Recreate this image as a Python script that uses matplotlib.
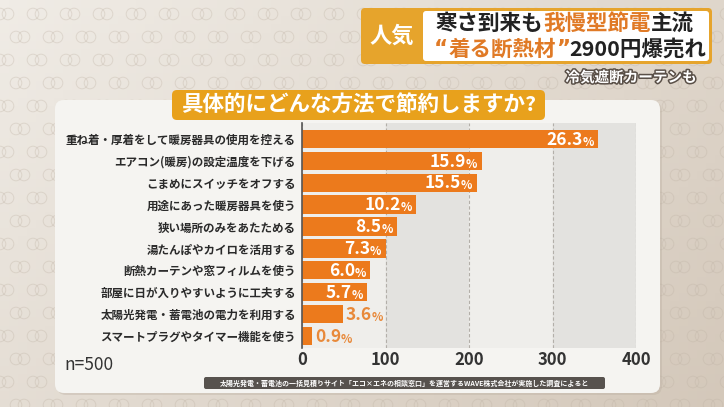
import numpy as np
import matplotlib.pyplot as plt
import matplotlib.patheffects as pe
from matplotlib.patches import FancyBboxPatch

plt.rcParams['font.family'] = ['Noto Sans CJK JP', 'DejaVu Sans']

# --- データ ---
methods = [
    '重ね着・厚着をして暖房器具の使用を控える',
    'エアコン(暖房)の設定温度を下げる',
    'こまめにスイッチをオフする',
    '用途にあった暖房器具を使う',
    '狭い場所のみをあたためる',
    '湯たんぽやカイロを活用する',
    '断熱カーテンや窓フィルムを使う',
    '部屋に日が入りやすいように工夫する',
    '太陽光発電・蓄電池の電力を利用する',
    'スマートプラグやタイマー機能を使う',
]
counts = [355, 215, 209, 137, 114, 100, 82, 78, 49, 12]
pct_labels = ['26.3', '15.9', '15.5', '10.2', '8.5', '7.3', '6.0', '5.7', '3.6', '0.9']
x_ticks = [0, 100, 200, 300, 400]
n_label = 'n=500'
question = '具体的にどんな方法で節約しますか?'
source = '太陽光発電・蓄電池の一括見積りサイト「エコ×エネの相談窓口」を運営するWAVE株式会社が実施した調査によると'

ORANGE = '#ec7a1c'
W, H = 724, 407

fig = plt.figure(figsize=(W / 100, H / 100), dpi=100)

# --- 背景 (ピクセル座標) ---
bg = fig.add_axes([0, 0, 1, 1], zorder=0)
bg.axis('off')
gx, gy = np.meshgrid(np.linspace(0, 1, 80), np.linspace(0, 1, 50))
t = np.clip(0.6 * gx + 0.4 * gy, 0, 1)[..., None]
c1 = np.array([0xf0, 0xec, 0xe6]) / 255
c2 = np.array([0xd4, 0xc8, 0xba]) / 255
bg.imshow(c1 * (1 - t) + c2 * t, extent=[0, W, H, 0], aspect='auto')
bg.set_xlim(0, W)
bg.set_ylim(H, 0)

# 丸模様
px, py = np.meshgrid(np.arange(0, W + 40, 33.0), np.arange(14, H + 20, 23.0))
px = px + (np.arange(px.shape[0])[:, None] % 2) * 16
for dx in (0, 8):
    bg.scatter((px + dx).ravel(), py.ravel(), s=70, facecolors='none',
               edgecolors='#bfb3a5', linewidths=0.7, alpha=0.35)

# パネル
bg.add_patch(FancyBboxPatch((57, 102), 605, 293, boxstyle='round,pad=0,rounding_size=9',
                            facecolor='#b9ad9f', edgecolor='none', alpha=0.35))
bg.add_patch(FancyBboxPatch((55, 100), 605, 293, boxstyle='round,pad=0,rounding_size=9',
                            facecolor='#f5f4f1', edgecolor='none'))

# 見出し
bg.add_patch(FancyBboxPatch((361, 8), 351, 56, boxstyle='round,pad=0,rounding_size=4',
                            facecolor='#e6a42c', edgecolor='none'))
bg.add_patch(FancyBboxPatch((423, 11), 286, 50, boxstyle='round,pad=0,rounding_size=3',
                            facecolor='white', edgecolor='none'))
bg.text(392, 36, '人気', color='white', fontsize=16, fontweight='bold', ha='center', va='center')

hl = dict(fontsize=15.5, fontweight='bold', va='center', ha='left')
t1 = bg.text(436, 23, '寒さ到来も', color='#222222', **hl)
t2 = bg.annotate('我慢型節電', xy=(1, 0.5), xycoords=t1, color='#e07a26', **hl)
bg.annotate('主流', xy=(1, 0.5), xycoords=t2, color='#222222', **hl)
q1 = bg.text(434, 49, '“', color='#e07a26', family=['DejaVu Sans'], **hl)
t4 = bg.annotate('着る断熱材', xy=(1, 0.5), xycoords=q1, color='#e07a26', **hl)
q2 = bg.annotate('”', xy=(1, 0.5), xycoords=t4, color='#e07a26', family=['DejaVu Sans'], **hl)
bg.annotate('2900円爆売れ', xy=(1, 0.5), xycoords=q2, color='#222222', **hl)

bg.text(697, 77, '冷気遮断カーテンも', color='white', fontsize=10.5, fontweight='bold',
        ha='right', va='center',
        path_effects=[pe.withStroke(linewidth=2.2, foreground='#5a5048')])

# 質問バナー
bg.add_patch(FancyBboxPatch((172, 90), 373, 30, boxstyle='round,pad=0,rounding_size=5',
                            facecolor='#e8a11c', edgecolor='none'))
bg.text(359, 105, question, color='white', fontsize=15.5, fontweight='bold',
        ha='center', va='center')

# n=500
bg.text(64, 365, n_label, color='#333333', fontsize=12.5, ha='left', va='center')

# 出典
bg.add_patch(FancyBboxPatch((204, 377), 401, 12, boxstyle='round,pad=0,rounding_size=2',
                            facecolor='#57524e', edgecolor='none'))
bg.text(404.5, 383, source, color='white', fontsize=5, fontweight='bold',
        ha='center', va='center')

# --- 棒グラフ ---
ax = fig.add_axes([302 / W, 1 - 348 / H, (636 - 302) / W, (348 - 123) / H], zorder=1)
ax.set_facecolor('none')
ypos = np.arange(len(methods))

ax.axvspan(0, 100, color='#efeeeb', zorder=0)
ax.axvspan(100, 200, color='#e3e2df', zorder=0)
ax.axvspan(200, 300, color='#efeeeb', zorder=0)
ax.axvspan(300, 400, color='#e3e2df', zorder=0)

ax.barh(ypos, counts, height=0.84, color=ORANGE, zorder=3)

ax.set_xlim(0, 400)
ax.set_ylim(len(methods) - 0.45, -0.73)
ax.set_xticks(x_ticks)
ax.set_xticklabels([str(v) for v in x_ticks], fontsize=12, color='#333333', fontweight='bold')
ax.set_yticks(ypos)
ax.set_yticklabels(methods, fontsize=8.3, color='#2a2a2a', fontweight='bold')
ax.tick_params(axis='both', length=0)
ax.tick_params(axis='y', pad=4.5)
ax.tick_params(axis='x', pad=2)
ax.grid(axis='x', linestyle=(0, (3, 2)), color='#b3afa9', linewidth=0.8, zorder=1)
ax.set_axisbelow(True)
for s in ['top', 'right', 'bottom']:
    ax.spines[s].set_visible(False)
ax.spines['left'].set_color('#555555')
ax.spines['left'].set_linewidth(1.2)
ax.spines['left'].set_zorder(4)

# 値ラベル
for i, (c, lab) in enumerate(zip(counts, pct_labels)):
    if c > 60:
        p = ax.annotate('%', xy=(c, i), xytext=(-3, -7), textcoords='offset points',
                        color='white', fontsize=8.5, fontweight='bold',
                        ha='right', va='bottom', zorder=5)
        ax.annotate(lab, xy=(0, 0), xycoords=p, color='white', fontsize=12.5,
                    fontweight='bold', ha='right', va='bottom', zorder=5)
    else:
        n = ax.annotate(lab, xy=(c, i), xytext=(2, -7), textcoords='offset points',
                        color='#e8893a', fontsize=12.5, fontweight='bold',
                        ha='left', va='bottom', zorder=5)
        ax.annotate('%', xy=(1, 0), xycoords=n, color='#e8893a', fontsize=8.5,
                    fontweight='bold', ha='left', va='bottom', zorder=5)

plt.savefig('out.png', dpi=100)
